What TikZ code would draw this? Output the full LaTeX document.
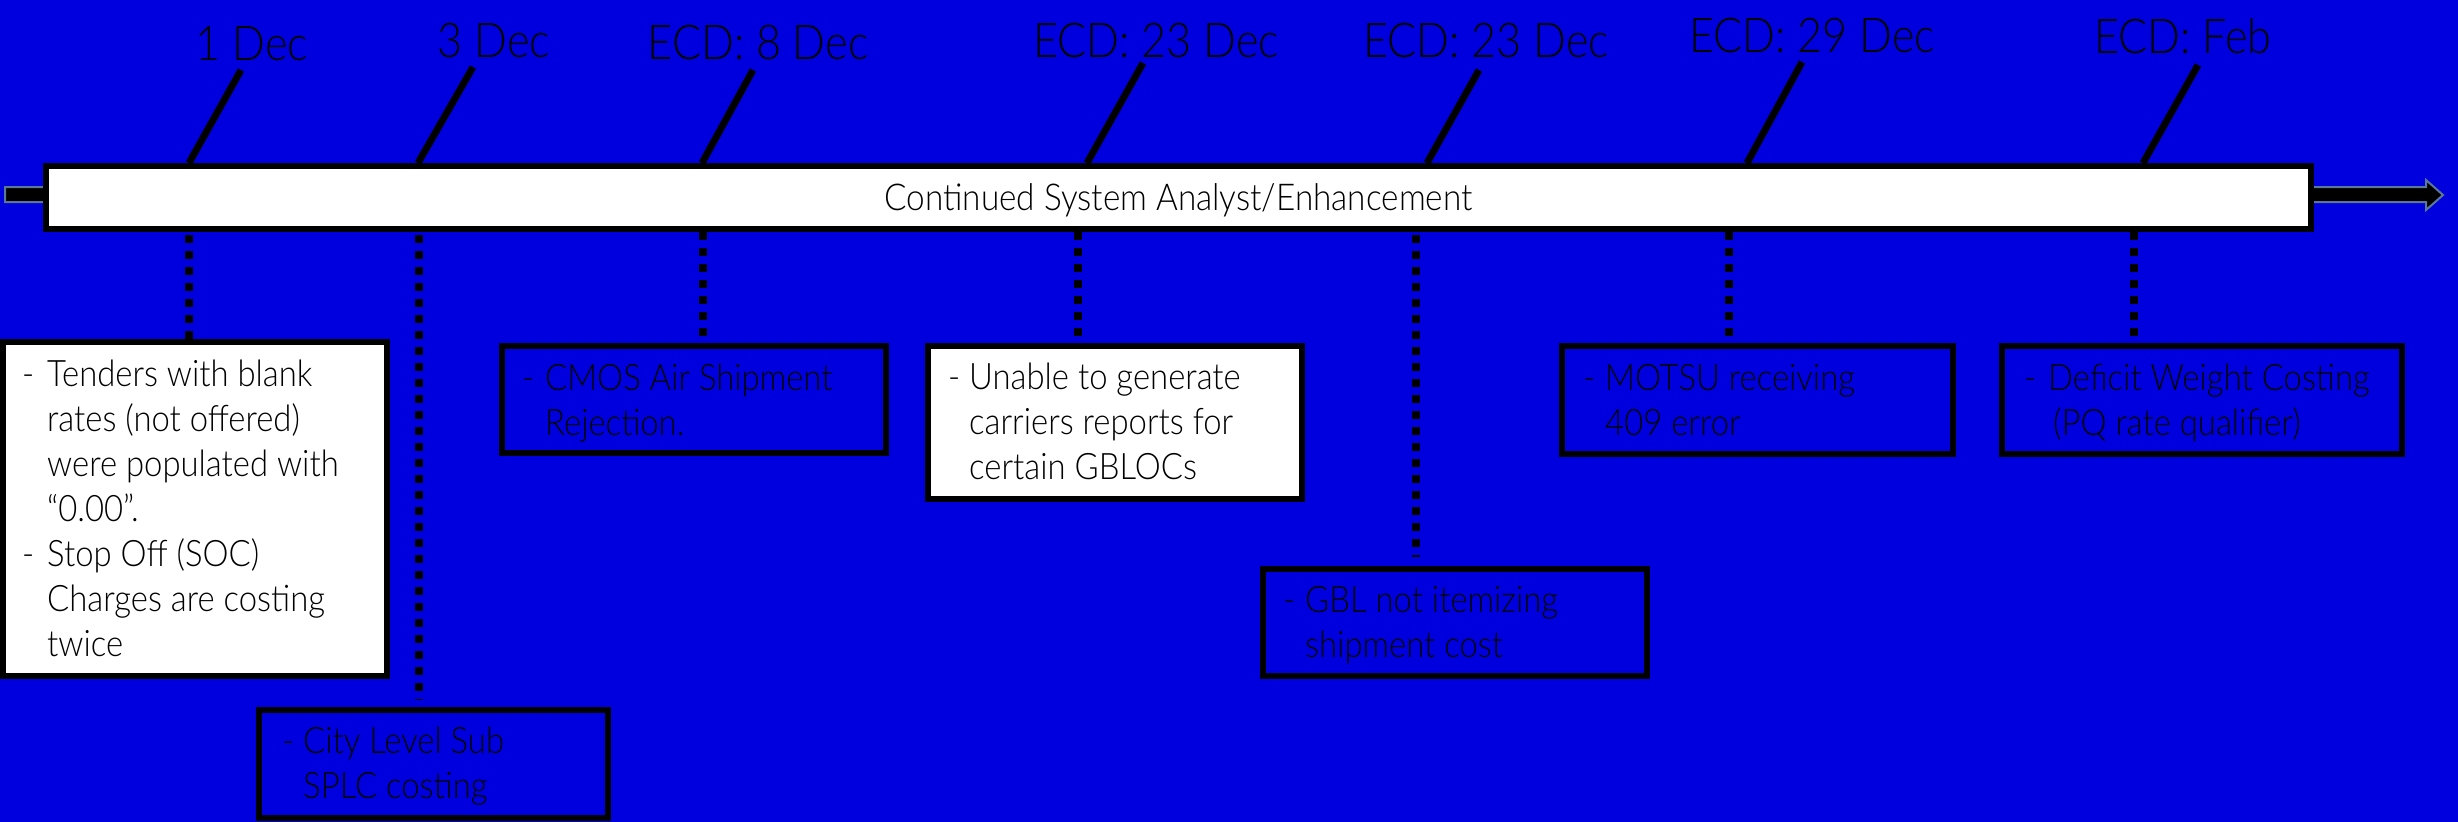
\documentclass[tikz,border=0pt]{standalone}
\usepackage{fontspec}
\usetikzlibrary{calc}
\setmainfont{Lato Light}[FakeStretch=0.9]
\definecolor{bg}{RGB}{0,0,222}
\definecolor{arrowedge}{RGB}{90,120,150}
\newcommand{\mydash}{\makebox[25pt][l]{-}}
\newcommand{\myindent}{\hspace*{25pt}}
\begin{document}
\begin{tikzpicture}[x=1pt,y=-1pt,
  boxline/.style={draw=black, line width=6pt, inner sep=0pt, outer sep=0pt, anchor=north west},
  whitebox/.style={boxline, fill=white},
  bluebox/.style={boxline, fill=bg},
  txt/.style={inner sep=0pt, anchor=base west, font=\fontsize{36.5}{45}\selectfont},
  datelbl/.style={inner sep=0pt, anchor=base, font=\fontsize{48}{56}\selectfont},
  tickline/.style={line width=7pt},
  leader/.style={line width=8pt, dash pattern=on 8pt off 8pt}]
\useasboundingbox (0,0) rectangle (2458,822);
\fill[bg] (0,0) rectangle (2458,822);

% block arrow behind the bar
\draw[draw=arrowedge, fill=black, line width=2pt]
  (5,187) -- (2426,187) -- (2426,180) -- (2443,195) -- (2426,210) -- (2426,202) -- (5,202) -- cycle;

% timeline bar
\node[draw=black, fill=white, line width=6pt, inner sep=0pt, outer sep=0pt,
      minimum width=2265pt, minimum height=63pt] (bar) at (1178.5,197.5) {};
\node[inner sep=0pt, anchor=base, font=\fontsize{37}{44}\selectfont] (bartext) at (1178.5,210) {Continued System Analyst/Enhancement};

% date labels
\node[datelbl] (l1) at (252,60) {1 Dec};
\node[datelbl] (l2) at (494,57) {3 Dec};
\node[datelbl] (l3) at (758,59) {ECD: 8 Dec};
\node[datelbl] (l4) at (1156,57) {ECD: 23 Dec};
\node[datelbl] (l5) at (1486,57) {ECD: 23 Dec};
\node[datelbl] (l6) at (1812,52) {ECD: 29 Dec};
\node[datelbl] (l7) at (2183,53) {ECD: Feb};

% tick coordinates
\coordinate (u1) at (241,70);  \coordinate (v1) at (189,163);
\coordinate (u2) at (473,67);  \coordinate (v2) at (418,163);
\coordinate (u3) at (753,70);  \coordinate (v3) at (702,163);
\coordinate (u4) at (1143,63); \coordinate (v4) at (1087,163);
\coordinate (u5) at (1479,70); \coordinate (v5) at (1427,163);
\coordinate (u6) at (1802,62); \coordinate (v6) at (1747,163);
\coordinate (u7) at (2198,65); \coordinate (v7) at (2143,163);
\foreach \i in {1,...,7} { \draw[tickline] (u\i) -- (v\i); }

% boxes
\node[whitebox, minimum width=384pt, minimum height=334pt] (b1) at (3,342) {};
\node[bluebox, minimum width=349pt, minimum height=108pt] (b2) at (259,710) {};
\node[bluebox, minimum width=384pt, minimum height=107pt] (b3) at (502,346) {};
\node[whitebox, minimum width=374pt, minimum height=153pt] (b4) at (928,346) {};
\node[bluebox, minimum width=384pt, minimum height=107pt] (b5) at (1263,569) {};
\node[bluebox, minimum width=391pt, minimum height=108pt] (b6) at (1562,346) {};
\node[bluebox, minimum width=400pt, minimum height=108pt] (b7) at (2002,346) {};

% leaders
\coordinate (d1) at (189,235);
\coordinate (d2) at (419,235);
\coordinate (d3) at (703,232);
\coordinate (d4) at (1078,232);
\coordinate (d5) at (1416,235);
\coordinate (d6) at (1729,232);
\coordinate (d7) at (2134,232);
\draw[leader] (d1) -- (d1 |- b1.north);
\draw[leader] (d2) -- ($(d2 |- b2.north)+(0,-10)$);
\draw[leader] (d3) -- ($(d3 |- b3.north)+(0,-10)$);
\draw[leader] (d4) -- ($(d4 |- b4.north)+(0,-8)$);
\draw[leader] (d5) -- ($(d5 |- b5.north)+(0,-12)$);
\draw[leader] (d6) -- ($(d6 |- b6.north)+(0,-6)$);
\draw[leader] (d7) -- (d7 |- b7.north);

% box texts
\node[txt] (t1) at (22,386) {\begin{tabular}[t]{@{}l@{}}
\mydash Tenders with blank\\ \myindent rates (not offered)\\ \myindent were populated with\\ \myindent “0.00”.\\
\mydash Stop Off (SOC)\\ \myindent Charges are costing\\ \myindent twice\end{tabular}};
\node[txt] (t2) at (282,753) {\begin{tabular}[t]{@{}l@{}}
\makebox[21pt][l]{-}City Level Sub\\ \hspace*{21pt}SPLC costing\end{tabular}};
\node[txt] (t3) at (522,390) {\begin{tabular}[t]{@{}l@{}}
\makebox[23pt][l]{-}CMOS Air Shipment\\ \hspace*{23pt}Rejection.\end{tabular}};
\node[txt] (t4) at (948,389) {\begin{tabular}[t]{@{}l@{}}
\makebox[21pt][l]{-}Unable to generate\\ \hspace*{21pt}carriers reports for\\ \hspace*{21pt}certain GBLOCs\end{tabular}};
\node[txt] (t5) at (1283,612) {\begin{tabular}[t]{@{}l@{}}
\makebox[22pt][l]{-}GBL not itemizing\\ \hspace*{22pt}shipment cost\end{tabular}};
\node[txt] (t6) at (1583,390) {\begin{tabular}[t]{@{}l@{}}
\makebox[22pt][l]{-}MOTSU receiving\\ \hspace*{22pt}409 error\end{tabular}};
\node[txt] (t7) at (2024,390) {\begin{tabular}[t]{@{}l@{}}
\makebox[24pt][l]{-}Deficit Weight Costing\\ \hspace*{29pt}(PQ rate qualifier)\end{tabular}};
\end{tikzpicture}
\end{document}
